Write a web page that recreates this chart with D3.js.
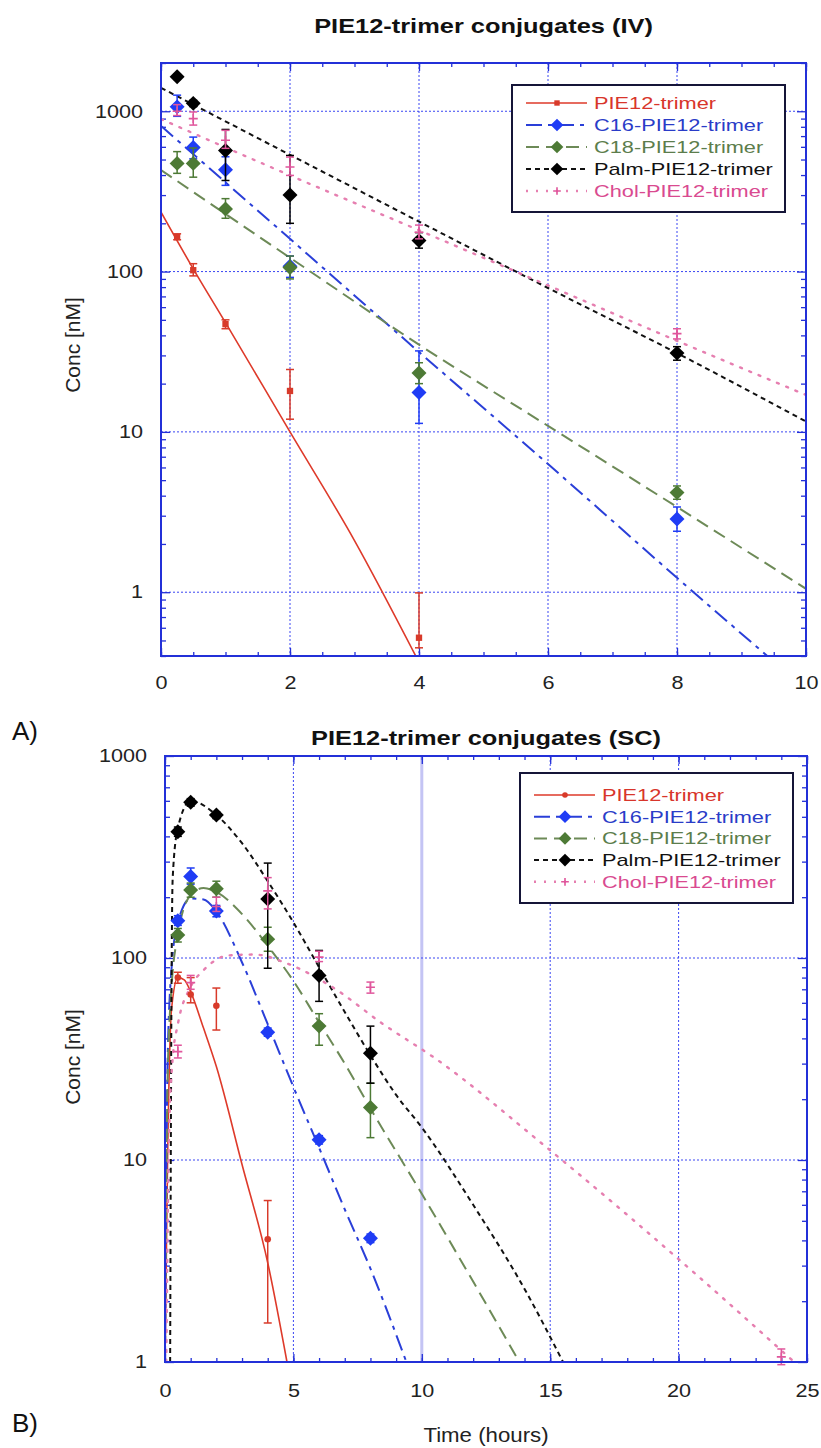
<!DOCTYPE html>
<html>
<head>
<meta charset="utf-8">
<script src="https://cdn.jsdelivr.net/npm/d3@7"></script>
<style>
  body { margin: 0; background: #fff; }
  text { font-family: "Liberation Sans", Arial, Helvetica, sans-serif; }
</style>
</head>
<body>
<script>
// ---- data ----
const seriesNames = ['PIE12-trimer', 'C16-PIE12-trimer', 'C18-PIE12-trimer', 'Palm-PIE12-trimer', 'Chol-PIE12-trimer']

// A) IV
const ivTimes = [0.25, 0.5, 1, 2, 4, 8]
const ivPIE12 = [164, 102, 47, 18, 0.52, null]
const ivPIE12Lo = [158, 94, 44, 12, 0.45, null]
const ivPIE12Hi = [172, 112, 50, 24.5, 0.99, null]
const ivC16 = [1065, 595, 432, 108, 17.6, 2.86]
const ivC16Lo = [930, 505, 345, 92, 11.3, 2.4]
const ivC16Hi = [1260, 690, 520, 125, 32, 3.4]
const ivC18 = [473, 473, 246, 106, 23.3, 4.18]
const ivC18Lo = [410, 388, 215, 90, 20, 3.8]
const ivC18Hi = [560, 590, 285, 125, 27, 4.6]
const ivPalm = [1640, 1120, 570, 300, 156, 31]
const ivPalmLo = [1580, 1070, 370, 200, 140, 28]
const ivPalmHi = [1700, 1170, 770, 530, 175, 34]
const ivChol = [1000, 900, 660, 449, 176, 41]
const ivCholLo = [940, 820, 587, 398, 160, 38]
const ivCholHi = [1100, 990, 760, 518, 195, 44]

const ivFitPIE12 = [[0, 235], [0.5, 104], [1, 48], [2, 10], [3, 2.1], [3.95, 0.4]]
const ivFitC16 = [[0, 810], [2, 160], [4, 31.5], [6, 6.3], [8, 1.23], [9.4, 0.4]]
const ivFitC18 = [[0, 430], [2, 122], [4, 35], [6, 10.9], [8, 3.4], [10, 1.05]]
const ivFitPalm = [[0, 1400], [2, 535], [4, 205], [6, 79], [8, 31], [10, 11.6]]
const ivFitChol = [[0, 893], [2, 398], [4, 181], [6, 82], [8, 37], [10, 17]]

// B) SC
const scTimes = [0.5, 1, 2, 4, 6, 8, 24]
const scPIE12 = [80, 66, 58, 4.05, null, null, null]
const scPIE12Lo = [75, 60, 44, 1.56, null, null, null]
const scPIE12Hi = [85, 80, 71, 6.3, null, null, null]
const scC16 = [153, 253, 171, 42.9, 12.6, 4.1, null]
const scC16Lo = [145, 232, 160, 41, 12, 3.9, null]
const scC16Hi = [162, 279, 182, 45, 13.2, 4.3, null]
const scC18 = [130, 217, 220, 124, 46, 18.2, null]
const scC18Lo = [120, 200, 200, 108, 37, 12.9, null]
const scC18Hi = [140, 235, 240, 142, 53, 24, null]
const scPalm = [422, 590, 510, 196, 82, 33.8, null]
const scPalmLo = [400, 565, 490, 89, 61, 24, null]
const scPalmHi = [445, 615, 530, 295, 109, 46, null]
const scChol = [34.4, 75.5, 180, 215, 101, 71.6, 1.06]
const scCholLo = [32, 70, 170, 175, 96, 67, 0.97]
const scCholHi = [37, 82, 200, 250, 108, 76, 1.16]

const scFitPIE12 = [[0, 1], [0.1, 10], [0.25, 55], [0.5, 80], [0.75, 78], [1, 68], [1.5, 45], [2, 29], [3, 9.5], [4, 3.1], [4.75, 1]]
const scFitC16 = [[0, 1], [0.1, 30], [0.25, 87], [0.5, 150], [1, 197], [1.5, 195], [2, 170], [3, 95], [4, 47], [5, 23], [6, 11.5], [7, 5.7], [8, 2.9], [9.4, 1]]
const scFitC18 = [[0, 1], [0.1, 25], [0.25, 70], [0.5, 130], [1, 205], [1.5, 222], [2, 212], [3, 165], [4, 115], [5, 77], [6, 48], [7, 30], [8, 18], [10, 6.8], [12, 2.5], [13.8, 1]]
const scFitPalm = [[0.2, 1], [0.25, 60], [0.3, 250], [0.5, 440], [1, 600], [2, 510], [3, 370], [4, 240], [5, 150], [6, 90], [7, 54], [8, 33], [9, 21], [10, 14.5], [12, 6], [14, 2.3], [15.5, 1]]
const scFitChol = [[0.05, 1], [0.15, 12], [0.3, 32], [0.5, 47], [1, 72], [1.5, 87], [2.5, 103], [3.5, 104], [4.75, 94], [6.5, 72], [8.5, 47], [10.5, 32], [14.7, 12], [20.7, 2.7], [24.5, 1]]

const ivXTicks = [0, 2, 4, 6, 8, 10]
const scXTicks = [0, 5, 10, 15, 20, 25]
const yTicks = [1, 10, 100, 1000]

// ---- styles ----
const axisBlue = '#2330d8'
const gridBlue = '#3a46f2'
const styles = [
  { mark: '#d83a2a', line: '#de3a2a', text: '#d8352b', dash: null, width: 1.6 },
  { mark: '#1f3cf5', line: '#2a3fd8', text: '#2a3cc8', dash: '16,6,4,6', width: 2 },
  { mark: '#4d7a35', line: '#6d8a57', text: '#5c7d4c', dash: '13,7', width: 2 },
  { mark: '#000', line: '#111', text: '#111', dash: '5,4', width: 2 },
  { mark: '#e0569c', line: '#e67fb0', text: '#d94a90', dash: '2,8', width: 2.4 }
]
const markers = ['square', 'diamond', 'diamond', 'diamond', 'plus']

const svg = d3.select('body').append('svg').attr('width', 821).attr('height', 1448).style('display', 'block')

const stretched = (g, txt, x, y, size, sx) =>
  g.append('text').text(txt).attr('transform', `translate(${x},${y}) scale(${sx},1)`).attr('font-size', size)

const drawMarker = (g, kind, cx, cy, color, scale = 1) => {
  if (kind === 'plus') {
    const s = 4.5 * scale
    g.append('path').attr('d', `M${cx - s},${cy}H${cx + s}M${cx},${cy - s}V${cy + s}`)
      .attr('stroke', color).attr('stroke-width', 1.6)
    return
  }
  const sym = kind === 'circle' ? d3.symbolCircle : d3.symbolSquare
  const size = kind === 'diamond' ? 112 : kind === 'circle' ? 34 : 40
  g.append('path').attr('d', d3.symbol(sym, size * scale * scale)())
    .attr('transform', `translate(${cx},${cy})` + (kind === 'diamond' ? ' rotate(45)' : ''))
    .attr('fill', color)
}

const renderPanel = ({ box, xDomain, yDomain, xTicks, xMinor, times, means, lows, highs, fits, lowMarker, legend, title, xLabel, letter, ylabelY, highlightX }) => {
  const g = svg.append('g')
  const x = d3.scaleLinear().domain(xDomain).range([box.left, box.right])
  const y = d3.scaleLog().domain(yDomain).range([box.bottom, box.top])
  const id = 'clip' + Math.round(box.top)
  g.append('clipPath').attr('id', id).append('rect')
    .attr('x', box.left).attr('y', box.top).attr('width', box.right - box.left).attr('height', box.bottom - box.top)

  // grid
  xTicks.filter((d) => d > xDomain[0] && d < xDomain[1]).forEach((d) => {
    g.append('line').attr('x1', x(d)).attr('x2', x(d)).attr('y1', box.top).attr('y2', box.bottom)
      .attr('stroke', d === highlightX ? '#c4c4f4' : gridBlue)
      .attr('stroke-width', d === highlightX ? 3 : 1)
      .attr('stroke-dasharray', d === highlightX ? null : '2,2')
  })
  yTicks.forEach((d) => {
    g.append('line').attr('x1', box.left).attr('x2', box.right).attr('y1', y(d)).attr('y2', y(d))
      .attr('stroke', gridBlue).attr('stroke-width', 1).attr('stroke-dasharray', '2,2')
  })

  // axes: ticks inside on all four sides
  const yMinor = y.ticks().filter((d) => !yTicks.includes(d))
  const tickAxis = (axis, tx, ty, size, values) => {
    const a = g.append('g').attr('transform', `translate(${tx},${ty})`)
      .call(axis.tickValues(values).tickSize(size).tickFormat(''))
    a.select('.domain').remove()
    a.selectAll('line').attr('stroke', axisBlue).attr('stroke-width', 1.3)
    return a
  }
  tickAxis(d3.axisBottom(x), 0, box.bottom, -4, xMinor)
  tickAxis(d3.axisTop(x), 0, box.top, -4, xMinor)
  tickAxis(d3.axisTop(x), 0, box.top, -8, xTicks)
  tickAxis(d3.axisLeft(y), box.left, 0, -5, yMinor)
  tickAxis(d3.axisRight(y), box.right, 0, -5, yMinor)
  tickAxis(d3.axisRight(y), box.right, 0, -9, yTicks)

  const xAxis = tickAxis(d3.axisBottom(x), 0, box.bottom, -8, xTicks)
  xAxis.call(d3.axisBottom(x).tickValues(xTicks).tickSize(-8).tickPadding(box.xPad).tickFormat(d3.format('d')))
  xAxis.select('.domain').remove()
  const yAxis = tickAxis(d3.axisLeft(y), box.left, 0, -9, yTicks)
  yAxis.call(d3.axisLeft(y).tickValues(yTicks).tickSize(-9).tickPadding(15).tickFormat(d3.format('d')))
  yAxis.select('.domain').remove()
  ;[xAxis, yAxis].forEach((a) => {
    a.attr('font-size', null).attr('font-family', null)
    a.selectAll('line').attr('stroke', axisBlue).attr('stroke-width', 1.3)
    a.selectAll('text').attr('font-size', 18).attr('fill', '#222').attr('transform', 'scale(1.2,1)')
  })

  // fitted curves
  const line = d3.line().x((d) => x(d[0])).y((d) => y(d[1])).curve(d3.curveMonotoneX)
  fits.forEach((f, i) => {
    g.append('path').datum(f).attr('d', line).attr('clip-path', `url(#${id})`)
      .attr('fill', 'none').attr('stroke', styles[i].line).attr('stroke-width', styles[i].width)
      .attr('stroke-dasharray', styles[i].dash).attr('stroke-linecap', i === 4 ? 'round' : 'butt')
  })

  // error bars + points
  means.forEach((vals, i) => {
    const s = styles[i]
    const kind = i === 0 ? lowMarker : markers[i]
    vals.forEach((v, j) => {
      if (v == null) return
      const cx = x(times[j])
      const eg = g.append('g').attr('stroke', s.mark).attr('stroke-width', 1.5)
      eg.append('line').attr('x1', cx).attr('x2', cx).attr('y1', y(lows[i][j])).attr('y2', y(highs[i][j]))
      ;[lows[i][j], highs[i][j]].forEach((e) => {
        eg.append('line').attr('x1', cx - 4).attr('x2', cx + 4).attr('y1', y(e)).attr('y2', y(e))
      })
      drawMarker(g, kind, cx, y(v), s.mark)
    })
  })

  // frame
  g.append('rect').attr('x', box.left).attr('y', box.top)
    .attr('width', box.right - box.left).attr('height', box.bottom - box.top)
    .attr('fill', 'none').attr('stroke', axisBlue).attr('stroke-width', 2)

  // legend
  const lg = g.append('g')
  lg.append('rect').attr('x', legend.x).attr('y', legend.y).attr('width', legend.w).attr('height', legend.h)
    .attr('fill', '#fff').attr('stroke', '#151538').attr('stroke-width', 2)
  seriesNames.forEach((name, i) => {
    const ry = legend.y + legend.first + i * legend.step
    const s = styles[i]
    lg.append('line').attr('x1', legend.x + 14).attr('x2', legend.x + 75).attr('y1', ry).attr('y2', ry)
      .attr('stroke', s.line).attr('stroke-width', s.width).attr('stroke-dasharray', s.dash)
    drawMarker(lg, i === 0 ? lowMarker : markers[i], legend.x + 45, ry, s.mark, 0.85)
    stretched(lg, name, legend.x + 82, ry + 6, 17, 1.28).attr('fill', s.text)
  })

  // titles
  stretched(g, title, (box.left + box.right) / 2, box.titleY, 21, 1.21)
    .attr('text-anchor', 'middle').attr('font-weight', 'bold').attr('fill', '#111')
  g.append('text').text('Conc [nM]').attr('font-size', 21).attr('fill', '#222')
    .attr('text-anchor', 'middle')
    .attr('transform', `translate(80,${ylabelY}) rotate(-90)`)
  if (xLabel) {
    stretched(g, xLabel, (box.left + box.right) / 2, 1442, 21, 1.06).attr('text-anchor', 'middle').attr('fill', '#222')
  }
  g.append('text').text(letter.text).attr('x', 12).attr('y', letter.y)
    .attr('font-size', 26).attr('font-family', '"Liberation Serif", "Times New Roman", serif').attr('fill', '#111')
}

renderPanel({
  box: { left: 161, right: 806, top: 63, bottom: 656, xPad: 20, titleY: 33 },
  xDomain: [0, 10],
  yDomain: [0.4, 2000],
  xTicks: ivXTicks,
  xMinor: d3.range(0, 10.01, 0.5),
  times: ivTimes,
  means: [ivPIE12, ivC16, ivC18, ivPalm, ivChol],
  lows: [ivPIE12Lo, ivC16Lo, ivC18Lo, ivPalmLo, ivCholLo],
  highs: [ivPIE12Hi, ivC16Hi, ivC18Hi, ivPalmHi, ivCholHi],
  fits: [ivFitPIE12, ivFitC16, ivFitC18, ivFitPalm, ivFitChol],
  lowMarker: 'square',
  legend: { x: 512, y: 85, w: 273, h: 127, first: 18, step: 22 },
  title: 'PIE12-trimer conjugates (IV)',
  xLabel: null,
  letter: { text: 'A)', y: 740 },
  ylabelY: 345,
  highlightX: null
})

renderPanel({
  box: { left: 165, right: 807, top: 756, bottom: 1362, xPad: 22, titleY: 745 },
  xDomain: [0, 25],
  yDomain: [1, 1000],
  xTicks: scXTicks,
  xMinor: d3.range(0, 25.01, 1),
  times: scTimes,
  means: [scPIE12, scC16, scC18, scPalm, scChol],
  lows: [scPIE12Lo, scC16Lo, scC18Lo, scPalmLo, scCholLo],
  highs: [scPIE12Hi, scC16Hi, scC18Hi, scPalmHi, scCholHi],
  fits: [scFitPIE12, scFitC16, scFitC18, scFitPalm, scFitChol],
  lowMarker: 'circle',
  legend: { x: 520, y: 773, w: 273, h: 130, first: 22, step: 21.7 },
  title: 'PIE12-trimer conjugates (SC)',
  xLabel: 'Time (hours)',
  letter: { text: 'B)', y: 1432 },
  ylabelY: 1057,
  highlightX: 10
})
</script>
</body>
</html>
